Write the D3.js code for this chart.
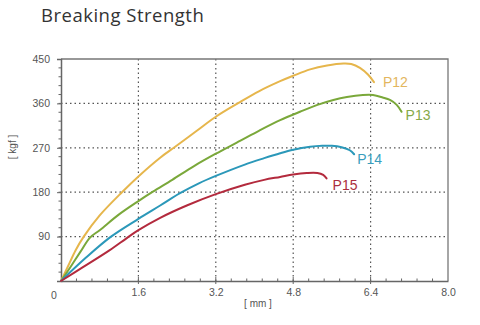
<!DOCTYPE html>
<html>
<head>
<meta charset="utf-8">
<script src="https://cdn.jsdelivr.net/npm/d3@7"></script>
<style>
  html, body { margin: 0; padding: 0; background: #fff; }
  svg { display: block; }
</style>
</head>
<body>
<svg id="chart" width="480" height="325"></svg>
<script>
// ---- data (mm, kgf) ----
const seriesNames = ["P12", "P13", "P14", "P15"];
const p12 = [[0,0],[0.15,31],[0.3,62],[0.47,90],[0.8,133],[1.26,180],[1.6,212],[2.05,250],[2.36,272],[2.8,304],[3.2,333],[3.67,361],[4.1,385],[4.53,405],[4.8,416],[5.15,429],[5.5,437],[5.84,441],[6.0,440],[6.18,432],[6.35,418],[6.47,403]];
const p13 = [[0,0],[0.2,29],[0.4,59],[0.6,88],[0.8,103],[1.2,135],[1.6,162],[1.9,181],[2.3,205],[2.75,233],[3.2,258],[3.7,284],[4.1,305],[4.53,326],[4.94,343],[5.3,357],[5.63,367],[5.91,373],[6.24,377],[6.45,377],[6.65,372],[6.8,367],[6.94,357],[7.04,343]];
const p14 = [[0,0],[0.5,46],[1.02,89],[1.6,126],[2.05,153],[2.46,178],[2.85,198],[3.2,213],[3.8,236],[4.2,249],[4.53,259],[4.8,266],[5.15,272],[5.4,274],[5.6,274],[5.8,271],[5.97,265],[6.06,257]];
const p15 = [[0,0],[0.47,29],[1.0,62],[1.36,87],[1.6,103],[2.05,128],[2.6,153],[3.2,176],[3.8,195],[4.2,205],[4.53,211],[4.8,216],[5.08,219],[5.3,219],[5.42,215],[5.49,208]];
const xTicks = [0, 1.6, 3.2, 4.8, 6.4, 8.0];
const xTickLabels = ["0", "1.6", "3.2", "4.8", "6.4", "8.0"];
const yTicks = [90, 180, 270, 360, 450];
const yTickLabels = ["90", "180", "270", "360", "450"];
const titleText = "Breaking Strength";
const xAxisLabel = "[ mm ]";
const yAxisLabel = "[ kgf ]";

const colors = ["#e6b64c", "#7aa83a", "#2b98b9", "#b32a3d"];
const labelColors = ["#e3b65e", "#86a949", "#3a9dbd", "#ab2e40"];
const allSeries = [p12, p13, p14, p15];
// label offsets from curve end (style)
const labelDx = [9, 4, 3, 6];
const labelDy = [5, 8, 10, 12];

// ---- layout ----
const svg = d3.select("#chart");
const L = 61, R = 448, T = 59, B = 281;
const x = d3.scaleLinear().domain([0, 8]).range([L, R]);
const y = d3.scaleLinear().domain([0, 450]).range([B, T]);

// title
svg.append("text")
  .attr("x", 41).attr("y", 22)
  .attr("font-family", "'Open Sans', Lato, sans-serif")
  .attr("font-size", 18.5)
  .attr("letter-spacing", 0.5)
  .attr("fill", "#333")
  .text(titleText);

// grid (dotted)
const grid = svg.append("g");
grid.selectAll("line.gx").data(xTicks.slice(1, -1)).join("line")
  .attr("x1", d => x(d)).attr("x2", d => x(d))
  .attr("y1", T).attr("y2", B)
  .attr("stroke", "#555").attr("stroke-width", 1.2)
  .attr("stroke-dasharray", "1.5,3");
grid.selectAll("line.gy").data(yTicks.slice(0, -1)).join("line")
  .attr("x1", L).attr("x2", R)
  .attr("y1", d => y(d)).attr("y2", d => y(d))
  .attr("stroke", "#555").attr("stroke-width", 1.2)
  .attr("stroke-dasharray", "1.5,3");

// frame top & right
svg.append("path")
  .attr("d", `M${L},${T}H${R}V${B}`)
  .attr("fill", "none").attr("stroke", "#777").attr("stroke-width", 1.3);

// axes
const fontAxis = "'Liberation Sans', Arial, sans-serif";
const xAxis = d3.axisBottom(x).tickValues(xTicks).tickSize(0).tickFormat((d, i) => i === 0 ? "" : xTickLabels[i]);
const gx = svg.append("g").attr("transform", `translate(0,${B})`).call(xAxis);
gx.select(".domain").attr("stroke", "#666").attr("stroke-width", 1.5);
gx.selectAll("text").attr("font-family", fontAxis).attr("font-size", 10.5).attr("fill", "#555").attr("dy", "1.1em");

const yAxis = d3.axisLeft(y).tickValues(yTicks).tickSize(4).tickPadding(7).tickFormat((d, i) => yTickLabels[i]);
const gy = svg.append("g").attr("transform", `translate(${L},0)`).call(yAxis);
gy.select(".domain").attr("stroke", "#666").attr("stroke-width", 1.5);
gy.selectAll(".tick line").attr("stroke", "#666");
gy.selectAll("text").attr("font-family", fontAxis).attr("font-size", 10.5).attr("fill", "#555");

// zero label
svg.append("text").attr("x", 54).attr("y", 299)
  .attr("text-anchor", "middle")
  .attr("font-family", fontAxis).attr("font-size", 10.5).attr("fill", "#555")
  .text(xTickLabels[0]);

// minor ticks
const xMinor = d3.range(0, 8.0001, 0.32).filter(v => v > 0 && v < 8);
svg.append("g").selectAll("line").data(xMinor).join("line")
  .attr("x1", d => x(d)).attr("x2", d => x(d))
  .attr("y1", d => B - (xTicks.some(t => Math.abs(t - d) < 1e-6) ? 4 : 2.5))
  .attr("y2", d => B + (xTicks.some(t => Math.abs(t - d) < 1e-6) ? 3 : 1))
  .attr("stroke", "#666").attr("stroke-width", 1);
const yMinor = d3.range(0, 450.001, 18).filter(v => v > 0 && v < 450);
svg.append("g").selectAll("line").data(yMinor).join("line")
  .attr("x1", L - 2.5).attr("x2", L + 1)
  .attr("y1", d => y(d)).attr("y2", d => y(d))
  .attr("stroke", "#666").attr("stroke-width", 1);

// axis titles
svg.append("text")
  .attr("transform", `translate(16,147) rotate(-90)`)
  .attr("text-anchor", "middle")
  .attr("font-family", fontAxis).attr("font-size", 10).attr("fill", "#555")
  .text(yAxisLabel);
svg.append("text")
  .attr("x", 258).attr("y", 307)
  .attr("text-anchor", "middle")
  .attr("font-family", fontAxis).attr("font-size", 10).attr("fill", "#555")
  .text(xAxisLabel);

// curves
const line = d3.line().x(d => x(d[0])).y(d => y(d[1])).curve(d3.curveCatmullRom.alpha(0.5));
svg.append("g").selectAll("path").data(allSeries).join("path")
  .attr("d", line)
  .attr("fill", "none")
  .attr("stroke", (d, i) => colors[i])
  .attr("stroke-width", 2)
  .attr("stroke-linecap", "round")
  .attr("stroke-linejoin", "round");

// end labels
svg.append("g").selectAll("text").data(allSeries).join("text")
  .attr("x", (d, i) => x(d[d.length - 1][0]) + labelDx[i])
  .attr("y", (d, i) => y(d[d.length - 1][1]) + labelDy[i])
  .attr("font-family", fontAxis).attr("font-size", 14)
  .attr("fill", (d, i) => labelColors[i])
  .text((d, i) => seriesNames[i]);
</script>
</body>
</html>
